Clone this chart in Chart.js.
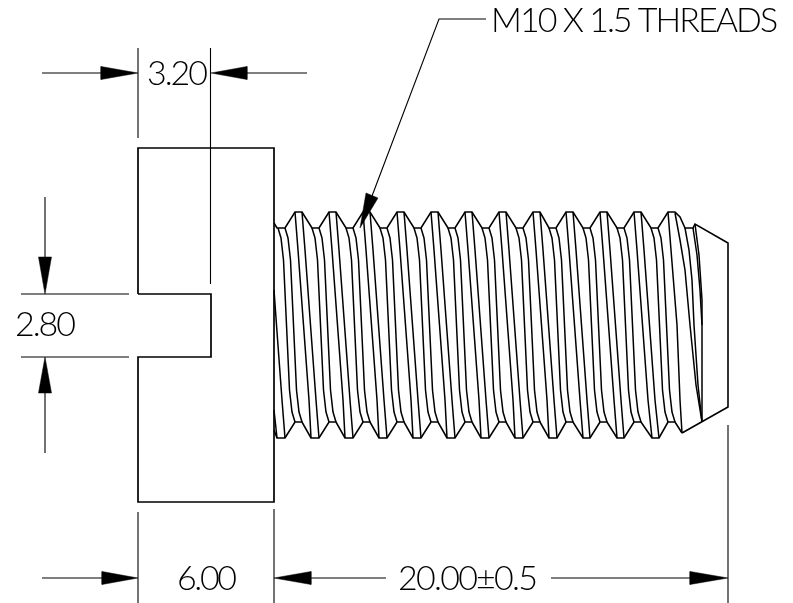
<!DOCTYPE html>
<html><head><meta charset="utf-8">
<style>html,body{margin:0;padding:0;background:#fff}canvas{display:block}</style>
<script src="https://cdn.jsdelivr.net/npm/chart.js@4"></script>
</head><body><canvas id="c" width="793" height="603"></canvas>
<script>
// Drawing: x, y pairs
const headOutline = [[138,294],[138,148],[274,148],[274,502],[138,502],[138,357],[211,357],[211,294],[138,294]];
const topProfile = [[274,223],[277,228],[285,228],[295,212],[302,212],[312,228],[319,228],[329,212],[336,212],[346,228],[353,228],[363,212],[370,212],[380,228],[387,228],[397,212],[404,212],[414,228],[421,228],[431,212],[438,212],[448,228],[455,228],[465,212],[472,212],[482,228],[489,228],[499,212],[506,212],[516,228],[523,228],[533,212],[540,212],[549,228],[556,228],[566,212],[573,212],[583,228],[590,228],[600,212],[607,212],[617,228],[624,228],[634,212],[641,212],[651,228],[658,228],[668,212],[675,212],[680,217],[685,228],[693,228],[695,224],[728,243],[728,407],[682,433]];
const bottomProfile = [[274,430],[277,438],[285,438],[295,422],[302,422],[311,438],[319,438],[329,422],[336,422],[345,438],[353,438],[363,422],[370,422],[379,438],[387,438],[397,422],[404,422],[413,438],[421,438],[431,422],[438,422],[447,438],[455,438],[465,422],[472,422],[481,438],[489,438],[499,422],[506,422],[515,438],[523,438],[533,422],[540,422],[549,438],[557,438],[566,422],[573,422],[583,438],[590,438],[600,422],[607,422],[617,438],[624,438],[634,422],[641,422],[652,438],[659,438],[668,422],[675,422],[682,433]];

const rootLevels = [228,238,260,325,390,412,422];
const rootLines = [
[278,281,283.5,286.5,289.5,292,295],[285,288,290.5,293.5,296.5,299,302],
[312,315,317.5,320.5,323.5,326,329],[319,322,324.5,327.5,330.5,333,336],
[346,349,351.5,354.5,357.5,360,363],[353,356,358.5,361.5,364.5,367,370],
[380,383,385.5,388.5,391.5,394,397],[387,390,392.5,395.5,398.5,401,404],
[414,417,419.5,422.5,425.5,428,431],[421,424,426.5,429.5,432.5,435,438],
[448,451,453.5,456.5,459.5,462,465],[455,458,460.5,463.5,466.5,469,472],
[482,485,487.5,490.5,493.5,496,499],[489,492,494.5,497.5,500.5,503,506],
[516,519,521.5,524.5,527.5,530,533],[523,526,528.5,531.5,534.5,537,540],
[549,552,554.5,557.5,560.5,563,566],[556,559,561.5,564.5,567.5,570,573],
[583,586,588.5,591.5,594.5,597,600],[590,593,595.5,598.5,601.5,604,607],
[617,620,622.5,625.5,628.5,631,634],[624,627,629.5,632.5,635.5,638,641],
[651,654,656.5,659.5,662.5,665,668],[658,661,663.5,666.5,669.5,672,675]
];
const crestLevels = [212,250,325,400,438];
const crestLines = [
[295,298,303.5,309,311],[302,305,310.5,316,319],
[329,332,337.5,343,345],[336,339,344.5,350,353],
[363,366,371.5,377,379],[370,373,378.5,384,387],
[397,400,405.5,411,413],[404,407,412.5,418,421],
[431,434,439.5,445,447],[438,441,446.5,452,455],
[465,468,473.5,479,481],[472,475,480.5,486,489],
[499,502,507.5,513,515],[506,509,514.5,520,523],
[533,536,541.5,547,549],[540,543,548.5,554,557],
[566,569,574.5,580,583],[573,576,581.5,587,590],
[600,603,608.5,614,617],[607,610,615.5,621,624],
[634,637,642.5,648,652],[641,644,649.5,655,659]
];
const threadExtras = [
[[274,290],[276.5,325],[282,400],[285,438]],
[[274,410],[277,438]],
[[668,212],[671,250],[677,325],[680,400],[682,433]],
[[675,213],[680,240],[685,270],[690,325],[696,385],[702,422]],
[[685,228],[689,250],[692,280],[694,325],[698,385],[702,422]],
[[693,228],[697,255],[700,290],[702,325]],
[[695,224],[699,255],[702,300],[702,422]]
];
const dimensionLines = [
[[42,73],[101,73]],[[247,73],[307,73]],
[[138,48],[138,138]],[[210.5,48],[210.5,284]],
[[45,197],[45,257]],[[45,393],[45,453]],
[[21,294],[129,294]],[[21,357],[129,357]],
[[42,578],[102,578]],[[311,578],[386,578]],[[551,578],[690,578]],
[[138,512],[138,603]],[[274,509],[274,603]],[[728,425],[728,603]],
[[486,19],[439,19],[372,196]]
];
const arrowHeads = [
[[138,73],[101,66.5],[101,79.5],[138,73]],
[[211,73],[247,66.5],[247,79.5],[211,73]],
[[45,294],[38.5,257],[51.5,257],[45,294]],
[[45,357],[38.5,393],[51.5,393],[45,357]],
[[138,578],[102,571.5],[102,584.5],[138,578]],
[[274,578],[311,571.5],[311,584.5],[274,578]],
[[728,578],[690,571.5],[690,584.5],[728,578]],
[[360,228],[366,193],[378,198],[360,228]]
];
const labelTexts = ['3.20','2.80','6.00','20.00±0.5','M10 X 1.5 THREADS'];
const labelX = [147,15,177,398,491];
const labelBaseline = [85,336,590,590,32];
const labelWidth = [61,61,60,140,287];

const toPts = a => a.map(p => ({x:p[0], y:p[1]}));
const ink = '#000';
const line = (pts,w) => ({data:toPts(pts),showLine:true,borderColor:ink,borderWidth:w,pointRadius:0,fill:false,tension:0});
const datasets = [];
datasets.push(line(headOutline,1.7));
datasets.push(line(topProfile,1.6));
datasets.push(line(bottomProfile,1.6));
rootLines.forEach(r => datasets.push(line(r.map((x,i)=>[x,rootLevels[i]]),1.5)));
crestLines.forEach(r => datasets.push(line(r.map((x,i)=>[x,crestLevels[i]]),1.5)));
threadExtras.forEach(r => datasets.push(line(r,1.5)));
dimensionLines.forEach(r => datasets.push(line(r,1.1)));
arrowHeads.forEach(r => datasets.push({data:toPts(r),showLine:true,borderColor:ink,borderWidth:0.5,backgroundColor:ink,pointRadius:0,fill:'shape',tension:0}));

const labelPlugin = {id:'labels',afterDatasetsDraw(chart){
  const {ctx,scales:{x,y}} = chart;
  ctx.save();
  ctx.fillStyle = '#000';
  ctx.font = '300 34px Lato';
  ctx.textBaseline = 'alphabetic';
  labelTexts.forEach((t,i)=>{
    ctx.letterSpacing = '0px';
    const w = ctx.measureText(t).width;
    const sp = (labelWidth[i]-w)/(t.length-1);
    ctx.letterSpacing = sp.toFixed(2)+'px';
    ctx.fillText(t,x.getPixelForValue(labelX[i]),y.getPixelForValue(labelBaseline[i]));
  });
  ctx.restore();
}};

new Chart(document.getElementById('c'),{
  type:'scatter',
  data:{datasets},
  plugins:[labelPlugin],
  options:{
    responsive:false,animation:false,
    layout:{padding:0},
    plugins:{legend:{display:false},tooltip:{enabled:false},title:{display:false}},
    scales:{
      x:{type:'linear',min:0,max:793,display:false},
      y:{type:'linear',min:0,max:603,reverse:true,display:false}
    },
    elements:{line:{capBezierPoints:false}},
    clip:false
  }
});
</script></body></html>
